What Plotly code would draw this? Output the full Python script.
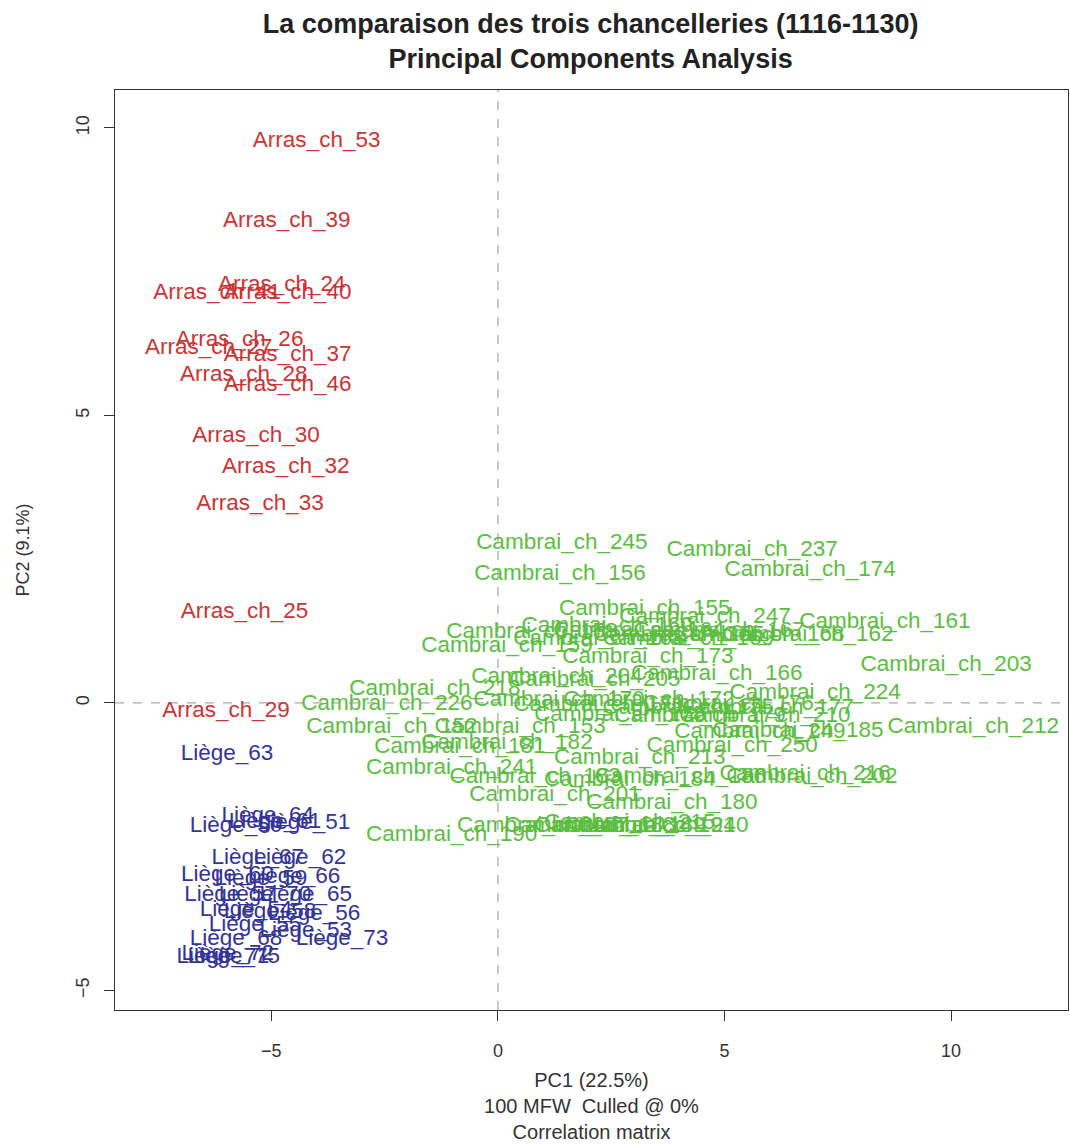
import plotly.graph_objects as go

# ---- data (PC1, PC2) ----
arras_labels = ["Arras_ch_53", "Arras_ch_39", "Arras_ch_24", "Arras_ch_41", "Arras_ch_40",
                "Arras_ch_26", "Arras_ch_27", "Arras_ch_37", "Arras_ch_28", "Arras_ch_46",
                "Arras_ch_30", "Arras_ch_32", "Arras_ch_33", "Arras_ch_25", "Arras_ch_29"]
arras_pc1 = [-4.00, -4.66, -4.77, -6.20, -4.64, -5.70, -6.38, -4.64, -5.61, -4.64,
             -5.34, -4.68, -5.25, -5.59, -6.00]
arras_pc2 = [9.76, 8.37, 7.27, 7.13, 7.13, 6.30, 6.16, 6.05, 5.69, 5.53,
             4.64, 4.10, 3.46, 1.57, -0.14]

liege_labels = ["Liège_63", "Liège_50", "Liège_64", "Liège_51", "Liège_61",
                "Liège_62", "Liège_67", "Liège_60", "Liège_59", "Liège_66",
                "Liège_65", "Liège_57", "Liège_70", "Liège_54", "Liège_58",
                "Liège_56", "Liège_55", "Liège_53", "Liège_68", "Liège_73",
                "Liège_71", "Liège_75", "Liège_72"]
liege_pc1 = [-5.98, -5.78, -5.08, -4.28, -4.92,
             -4.37, -5.30, -5.97, -5.23, -4.50,
             -4.24, -5.90, -5.14, -5.56, -5.03,
             -4.06, -5.36, -4.24, -5.78, -3.44,
             -6.07, -5.83, -5.96]
liege_pc2 = [-0.89, -2.14, -1.97, -2.10, -2.07,
             -2.70, -2.70, -3.00, -3.07, -3.03,
             -3.34, -3.34, -3.34, -3.60, -3.65,
             -3.67, -3.86, -3.97, -4.12, -4.12,
             -4.42, -4.43, -4.38]

cambrai_labels = ["Cambrai_ch_245", "Cambrai_ch_156", "Cambrai_ch_237", "Cambrai_ch_174",
                  "Cambrai_ch_155", "Cambrai_ch_247", "Cambrai_ch_161", "Cambrai_ch_162",
                  "Cambrai_ch_158", "Cambrai_ch_159", "Cambrai_ch_160", "Cambrai_ch_173",
                  "Cambrai_ch_163", "Cambrai_ch_164", "Cambrai_ch_165", "Cambrai_ch_167",
                  "Cambrai_ch_168", "Cambrai_ch_169", "Cambrai_ch_203", "Cambrai_ch_204",
                  "Cambrai_ch_205", "Cambrai_ch_166", "Cambrai_ch_224", "Cambrai_ch_218",
                  "Cambrai_ch_226", "Cambrai_ch_152", "Cambrai_ch_153", "Cambrai_ch_210",
                  "Cambrai_ch_170", "Cambrai_ch_171", "Cambrai_ch_172", "Cambrai_ch_175",
                  "Cambrai_ch_176", "Cambrai_ch_177", "Cambrai_ch_178", "Cambrai_ch_179",
                  "Cambrai_ch_212", "Cambrai_ch_249", "Cambrai_ch_185", "Cambrai_ch_250",
                  "Cambrai_ch_213", "Cambrai_ch_181", "Cambrai_ch_182", "Cambrai_ch_241",
                  "Cambrai_ch_183", "Cambrai_ch_184", "Cambrai_ch_186", "Cambrai_ch_216",
                  "Cambrai_ch_202", "Cambrai_ch_201", "Cambrai_ch_180", "Cambrai_ch_187",
                  "Cambrai_ch_188", "Cambrai_ch_189", "Cambrai_ch_191", "Cambrai_ch_215",
                  "Cambrai_ch_240", "Cambrai_ch_190"]
cambrai_pc1 = [1.41, 1.37, 5.61, 6.89,
               3.24, 4.57, 8.54, 6.84,
               0.75, 0.20, 2.41, 3.31,
               2.23, 3.11, 3.99, 4.88,
               5.76, 4.20, 9.89, 1.30,
               2.14, 4.83, 7.00, -1.39,
               -2.45, -2.34, 0.49, 5.89,
               1.35, 2.23, 3.33, 4.20,
               5.08, 5.96, 2.69, 4.46,
               10.49, 5.78, 6.62, 5.17,
               3.13, -0.84, 0.20, -1.02,
               0.82, 2.91, 4.02, 6.78,
               6.93, 1.26, 3.84, 0.99,
               2.03, 2.69, 3.35, 2.91,
               3.64, -1.02]
cambrai_pc2 = [2.78, 2.24, 2.66, 2.30,
               1.62, 1.48, 1.41, 1.17,
               1.22, 0.99, 1.34, 0.80,
               1.10, 1.24, 1.17, 1.24,
               1.17, 1.10, 0.66, 0.45,
               0.40, 0.49, 0.17, 0.24,
               -0.02, -0.43, -0.43, -0.23,
               0.05, -0.05, 0.05, -0.09,
               -0.02, -0.09, -0.21, -0.23,
               -0.42, -0.52, -0.49, -0.75,
               -0.96, -0.78, -0.70, -1.13,
               -1.29, -1.34, -1.29, -1.25,
               -1.29, -1.60, -1.74, -2.14,
               -2.14, -2.14, -2.14, -2.09,
               -2.14, -2.31]

x_ticks = [-5, 0, 5, 10]
y_ticks = [-5, 0, 5, 10]

FONT = "Liberation Sans, Arial, sans-serif"

fig = go.Figure()
for lab, xs, ys, col in [(arras_labels, arras_pc1, arras_pc2, "#CC3333"),
                         (cambrai_labels, cambrai_pc1, cambrai_pc2, "#5BBE3F"),
                         (liege_labels, liege_pc1, liege_pc2, "#33339A")]:
    fig.add_trace(go.Scatter(x=xs, y=ys, text=lab, mode="text",
                             textposition="middle center",
                             textfont=dict(family=FONT, size=22.5, color=col),
                             hoverinfo="text", showlegend=False, cliponaxis=False))

fig.add_shape(type="line", xref="x", yref="paper", x0=0, x1=0, y0=0, y1=1,
              line=dict(color="#AAAAAA", width=1.3, dash="dash"), layer="below")
fig.add_shape(type="line", xref="paper", yref="y", x0=0, x1=1, y0=0, y1=0,
              line=dict(color="#AAAAAA", width=1.3, dash="dash"), layer="below")

fig.update_layout(
    width=1070, height=1144,
    margin=dict(l=115, r=2, t=90, b=134, autoexpand=False),
    paper_bgcolor="white", plot_bgcolor="white",
    font=dict(family=FONT, color="#222222"),
    title=dict(text="<b>La comparaison des trois chancelleries (1116-1130)<br>Principal Components Analysis</b>",
               x=0.552, xanchor="center", yref="container", y=0.971, yanchor="middle",
               font=dict(family=FONT, size=27, color="#222222")),
    xaxis=dict(range=[-8.45, 12.58], tickvals=x_ticks, ticks="outside", ticklen=10,
               tickcolor="#333333", showgrid=False, zeroline=False,
               showline=True, linecolor="#333333", linewidth=1.2, mirror=True,
               tickfont=dict(size=18, color="#333333"), ticklabelstandoff=14,
               title=dict(text="PC1 (22.5%)<br>100 MFW  Culled @ 0%<br>Correlation matrix",
                          font=dict(size=20, color="#333333"), standoff=13)),
    yaxis=dict(range=[-5.34, 10.66], tickvals=y_ticks, ticks="outside", ticklen=10,
               tickcolor="#333333", showgrid=False, zeroline=False, tickangle=-90,
               showline=True, linecolor="#333333", linewidth=1.2, mirror=True,
               tickfont=dict(size=18, color="#333333"), ticklabelstandoff=8,
               title=dict(text="PC2 (9.1%)", font=dict(size=18, color="#333333"), standoff=38)),
)

fig.write_html("out.html", config={"displayModeBar": False},
               post_script="document.body.style.margin='0';")
